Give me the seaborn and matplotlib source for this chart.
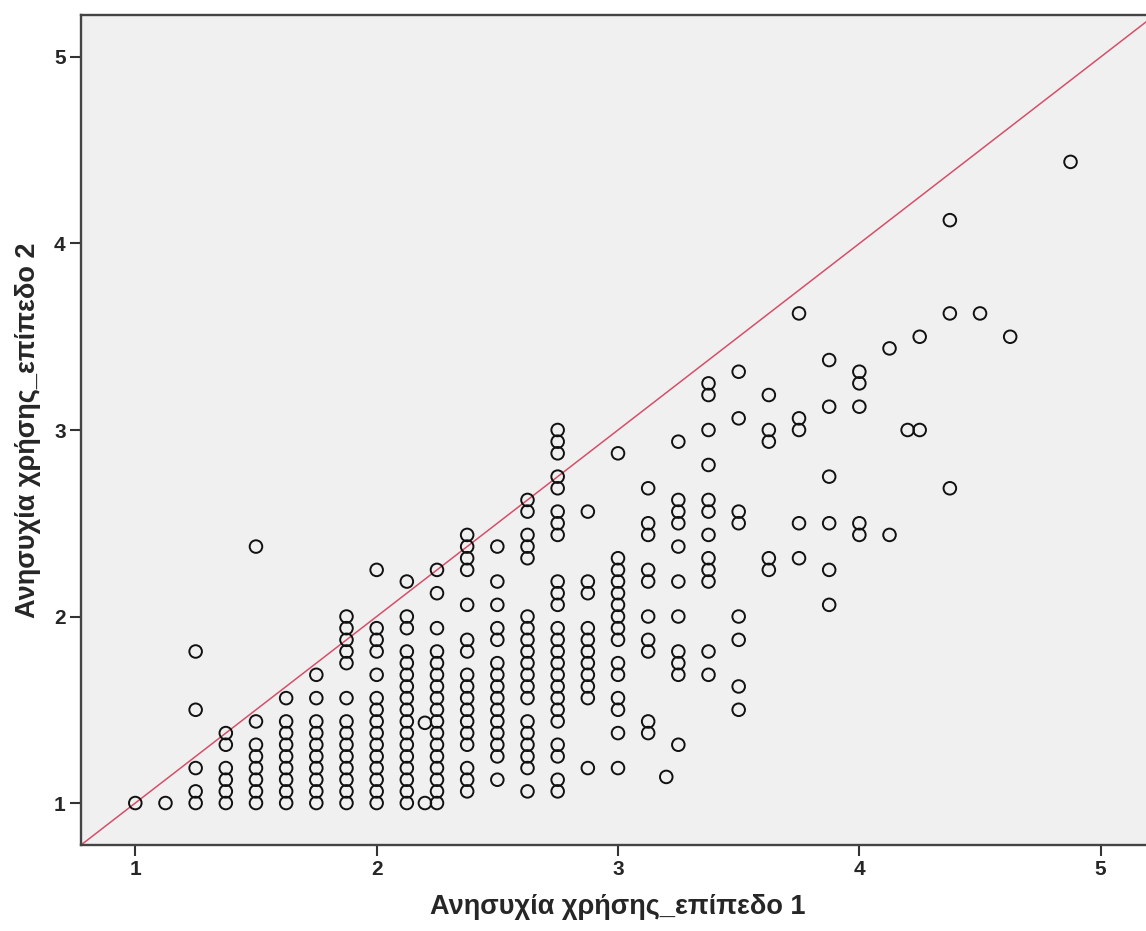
import matplotlib
matplotlib.use("Agg")
import matplotlib.pyplot as plt
import numpy as np
import pandas as pd
import seaborn as sns

# data: one list of level-2 scores per level-1 score
x_levels = [1.0, 1.125, 1.25, 1.375, 1.5, 1.625, 1.75, 1.875, 2.0, 2.125,
            2.2, 2.25, 2.375, 2.5, 2.625, 2.75, 2.875, 3.0, 3.125, 3.2,
            3.25, 3.375, 3.5, 3.625, 3.75, 3.875, 4.0, 4.125, 4.2, 4.25,
            4.375, 4.5, 4.625, 4.875]

y_100 = [1.0]
y_1125 = [1.0]
y_125 = [1.0, 1.0625, 1.1875, 1.5, 1.8125]
y_1375 = [1.0, 1.0625, 1.125, 1.1875, 1.3125, 1.375]
y_150 = [1.0, 1.0625, 1.125, 1.1875, 1.25, 1.3125, 1.4375, 2.375]
y_1625 = [1.0, 1.0625, 1.125, 1.1875, 1.25, 1.3125, 1.375, 1.4375, 1.5625]
y_175 = [1.0, 1.0625, 1.125, 1.1875, 1.25, 1.3125, 1.375, 1.4375, 1.5625, 1.6875]
y_1875 = [1.0, 1.0625, 1.125, 1.1875, 1.25, 1.3125, 1.375, 1.4375, 1.5625,
          1.75, 1.8125, 1.875, 1.9375, 2.0]
y_200 = [1.0, 1.0625, 1.125, 1.1875, 1.25, 1.3125, 1.375, 1.4375, 1.5, 1.5625,
         1.6875, 1.8125, 1.875, 1.9375, 2.25]
y_2125 = [1.0, 1.0625, 1.125, 1.1875, 1.25, 1.3125, 1.375, 1.4375, 1.5, 1.5625,
          1.625, 1.6875, 1.75, 1.8125, 1.9375, 2.0, 2.1875]
y_220 = [1.0, 1.43]
y_225 = [1.0, 1.0625, 1.125, 1.1875, 1.25, 1.3125, 1.375, 1.4375, 1.5, 1.5625,
         1.625, 1.6875, 1.75, 1.8125, 1.9375, 2.125, 2.25]
y_2375 = [1.0625, 1.125, 1.1875, 1.3125, 1.375, 1.4375, 1.5, 1.5625, 1.625,
          1.6875, 1.8125, 1.875, 2.0625, 2.25, 2.3125, 2.375, 2.4375]
y_250 = [1.125, 1.25, 1.3125, 1.375, 1.4375, 1.5, 1.5625, 1.625, 1.6875, 1.75,
         1.875, 1.9375, 2.0625, 2.1875, 2.375]
y_2625 = [1.0625, 1.1875, 1.25, 1.3125, 1.375, 1.4375, 1.5625, 1.625, 1.6875,
          1.75, 1.8125, 1.875, 1.9375, 2.0, 2.3125, 2.375, 2.4375, 2.5625, 2.625]
y_275 = [1.0625, 1.125, 1.25, 1.3125, 1.4375, 1.5, 1.5625, 1.625, 1.6875, 1.75,
         1.8125, 1.875, 1.9375, 2.0625, 2.125, 2.1875, 2.4375, 2.5, 2.5625,
         2.6875, 2.75, 2.875, 2.9375, 3.0]
y_2875 = [1.1875, 1.5625, 1.625, 1.6875, 1.75, 1.8125, 1.875, 1.9375, 2.125,
          2.1875, 2.5625]
y_300 = [1.1875, 1.375, 1.5, 1.5625, 1.6875, 1.75, 1.875, 1.9375, 2.0, 2.0625,
         2.125, 2.1875, 2.25, 2.3125, 2.875]
y_3125 = [1.375, 1.4375, 1.8125, 1.875, 2.0, 2.1875, 2.25, 2.4375, 2.5, 2.6875]
y_320 = [1.14]
y_325 = [1.3125, 1.6875, 1.75, 1.8125, 2.0, 2.1875, 2.375, 2.5, 2.5625, 2.625,
         2.9375]
y_3375 = [1.6875, 1.8125, 2.1875, 2.25, 2.3125, 2.4375, 2.5625, 2.625, 2.8125,
          3.0, 3.1875, 3.25]
y_350 = [1.5, 1.625, 1.875, 2.0, 2.5, 2.5625, 3.0625, 3.3125]
y_3625 = [2.25, 2.3125, 2.9375, 3.0, 3.1875]
y_375 = [2.3125, 2.5, 3.0, 3.0625, 3.625]
y_3875 = [2.0625, 2.25, 2.5, 2.75, 3.125, 3.375]
y_400 = [2.4375, 2.5, 3.125, 3.25, 3.3125]
y_4125 = [2.4375, 3.4375]
y_420 = [3.0]
y_425 = [3.0, 3.5]
y_4375 = [2.6875, 3.625, 4.125]
y_450 = [3.625]
y_4625 = [3.5]
y_4875 = [4.4375]

y_columns = [y_100, y_1125, y_125, y_1375, y_150, y_1625, y_175, y_1875, y_200,
             y_2125, y_220, y_225, y_2375, y_250, y_2625, y_275, y_2875, y_300,
             y_3125, y_320, y_325, y_3375, y_350, y_3625, y_375, y_3875, y_400,
             y_4125, y_420, y_425, y_4375, y_450, y_4625, y_4875]

x_ticks = [1, 2, 3, 4, 5]
y_ticks = [1, 2, 3, 4, 5]
x_label = "Ανησυχία χρήσης_επίπεδο 1"
y_label = "Ανησυχία χρήσης_επίπεδο 2"

rows = []
for xv, ys in zip(x_levels, y_columns):
    for yv in ys:
        rows.append({"level1": xv, "level2": yv})
df = pd.DataFrame(rows)

sns.set_style("white")
plt.rcParams["font.family"] = ["Liberation Sans", "DejaVu Sans"]

fig = plt.figure(figsize=(11.46, 9.31), dpi=100, facecolor="white")
ax = fig.add_axes([81 / 1146, 86 / 931, 1074 / 1146, 830 / 931])
ax.set_facecolor("#f0f0f0")

sns.scatterplot(data=df, x="level1", y="level2", ax=ax, s=82,
                facecolor="none", edgecolor="#111111", linewidth=1.4, zorder=3)

# reference line y = x
ax.axline((1, 1), slope=1, color="#d4506a", linewidth=1.1, zorder=2)

ax.set_xlim(0.775, 5.225)
ax.set_ylim(0.775, 5.225)
ax.set_xticks(x_ticks)
ax.set_yticks(y_ticks)

tick_font = ["Liberation Sans Narrow", "Liberation Sans", "DejaVu Sans"]
ax.set_xticklabels([str(t) for t in x_ticks], fontsize=15, fontweight="bold",
                   family=tick_font)
ax.set_yticklabels([str(t) for t in y_ticks], fontsize=15, fontweight="bold",
                   family=tick_font)
ax.tick_params(axis="both", direction="out", length=8, width=1.5,
               color="#333333", pad=3, bottom=True, left=True)

for side in ["left", "bottom", "top", "right"]:
    ax.spines[side].set_visible(True)
    ax.spines[side].set_color("#444444")
    ax.spines[side].set_linewidth(1.7)

ax.set_xlabel(x_label, fontsize=19.5, fontweight="bold")
ax.set_ylabel(y_label, fontsize=19.5, fontweight="bold")
ax.xaxis.set_label_coords(0.5, -0.0745)
ax.xaxis.label.set_va("center")
ax.yaxis.set_label_coords(-0.049, 0.5)
ax.yaxis.label.set_va("center")

fig.savefig("out.png", dpi=100, facecolor="white")
